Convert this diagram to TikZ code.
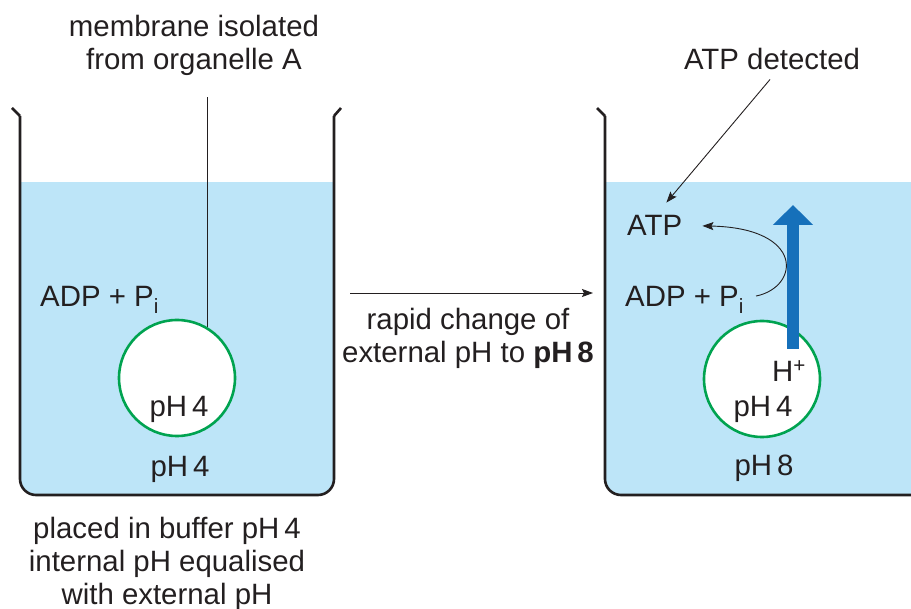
\documentclass[tikz,border=0pt]{standalone}
\usepackage{fontspec}
\setmainfont{Liberation Sans}
\usetikzlibrary{arrows.meta}
\definecolor{water}{RGB}{189,229,248}
\definecolor{vesgreen}{RGB}{0,163,80}
\definecolor{pumpblue}{RGB}{22,112,186}
\definecolor{ink}{RGB}{35,31,32}

\begin{document}
\begin{tikzpicture}[x=1pt, y=-1pt,
  txt/.style={font=\fontsize{29.4}{33}\selectfont, text=ink, inner sep=0pt, align=center},
  wall/.style={draw=ink, line width=2.6pt},
  vesicle/.style={circle, draw=vesgreen, line width=2.6pt, fill=white, minimum size=116pt, inner sep=0pt},
  thinline/.style={draw=ink, line width=0.9pt},
  thinarrow/.style={thinline, -{Stealth[length=11pt, width=8pt, inset=2pt]}},
  pumparrow/.style={draw=pumpblue, line width=12pt, -{Triangle[length=20pt, width=39pt]}},]
\useasboundingbox (0,0) rectangle (911,609);
\clip (0,0) rectangle (911,609);
% water
\begin{scope}
\clip (0,183) rectangle (911,609);
\fill[water, rounded corners=16pt] (20,150) rectangle (334,495);
\fill[water, rounded corners=16pt] (605,150) rectangle (980,495);
\end{scope}
% beakers
\draw[wall, rounded corners=16pt] (20,116) -- (20,495) -- (334,495) -- (334,116);
\draw[wall] (12,108) -- (20,116);
\draw[wall] (341,108) -- (334,116);
\draw[wall, rounded corners=16pt] (605,116) -- (605,495) -- (980,495);
\draw[wall] (597,108) -- (605,116);
% nodes
\node[vesicle] (vesA) at (177,378) {};
\node[vesicle] (vesB) at (762,379) {};
\node[txt, anchor=base] (memlabel) at (194,70) {membrane isolated\\from organelle A};
\node[txt, anchor=base west] (adpA) at (40,307) {ADP + P\textsubscript{i}};
\node[txt, anchor=base] (inA) at (179,417) {pH\,4};
\node[txt, anchor=base] (outA) at (180,477) {pH\,4};
\node[txt, anchor=base] (buffer) at (167,604) {placed in buffer pH\,4\\internal pH equalised\\with external pH};
\node[txt, anchor=base] (change) at (468,363) {rapid change of\\external pH to \textbf{pH\,8}};
\node[txt, anchor=base] (atpdet) at (772,70) {ATP detected};
\node[txt, anchor=base west] (atp) at (627,236) {ATP};
\node[txt, anchor=base west] (adpB) at (625,307) {ADP + P\textsubscript{i}};
\node[txt, anchor=base west] (hplus) at (772,382) {H\textsuperscript{+}};
\node[txt, anchor=base] (inB) at (763,417) {pH\,4};
\node[txt, anchor=base] (outB) at (764,476) {pH\,8};
\coordinate (memtop) at (207,97);
\coordinate (chgstart) at (350,293);
\coordinate (chgend) at (593,293);
\coordinate (pumpbase) at (793,349);
\coordinate (pumptip) at (793,205);
% edges
\draw[thinline] (vesA.59) -- (vesA.59 |- memtop);
\draw[thinarrow] (chgstart) -- (chgend);
\draw[thinarrow] ([shift={(-2,9)}]atpdet.south) -- ([shift={(-16,-13)}]atp.north east);
\draw[thinarrow] ([shift={(12,-4)}]adpB.east) .. controls (800,287) and (805,228) .. ([shift={(20,0)}]atp.east);
\draw[pumparrow] (pumpbase) -- (pumptip);
\end{tikzpicture}
\end{document}
